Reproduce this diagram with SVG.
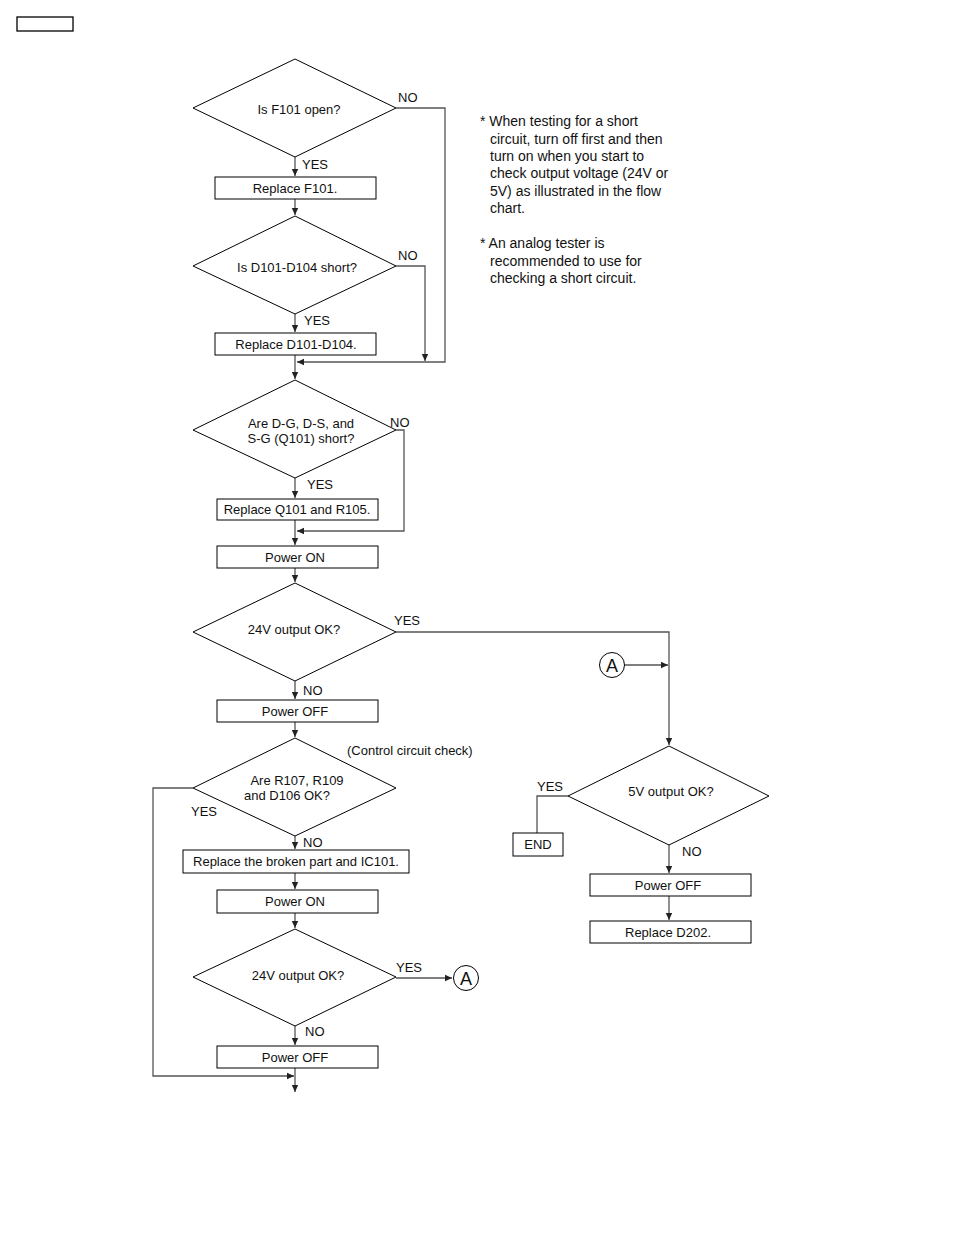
<svg xmlns="http://www.w3.org/2000/svg" width="954" height="1235" viewBox="0 0 954 1235">
<defs>
<marker id="ar" markerWidth="8" markerHeight="8" refX="7" refY="4" orient="auto" markerUnits="userSpaceOnUse">
<path d="M0,0.8 L7,4 L0,7.2 Z" fill="#222"/>
</marker>
<style>
.n{fill:#fff;stroke:#000;stroke-width:1}
.t{font-family:"Liberation Sans",Arial,sans-serif;font-size:13px;fill:#111}
.c{text-anchor:middle}
.big{font-size:18px}
.l{fill:none;stroke:#555;stroke-width:1.3}
.note{font-family:"Liberation Sans",Arial,sans-serif;font-size:14px;fill:#111}
</style>
</defs>
<rect width="954" height="1235" fill="#fff"/>
<rect x="17" y="17" width="56" height="14" fill="none" stroke="#000" stroke-width="1.3"/>

<g id="connectors">
<path class="l" d="M295,157 V176" marker-end="url(#ar)"/>
<path class="l" d="M295,199 V215" marker-end="url(#ar)"/>
<path class="l" d="M396,108 H445 V362 H297" marker-end="url(#ar)"/>
<path class="l" d="M396,266 H425 V361" marker-end="url(#ar)"/>
<path class="l" d="M295,314 V332" marker-end="url(#ar)"/>
<path class="l" d="M295,355 V379" marker-end="url(#ar)"/>
<path class="l" d="M396,430 H404 V531 H297" marker-end="url(#ar)"/>
<path class="l" d="M295,478 V498" marker-end="url(#ar)"/>
<path class="l" d="M295,520 V545" marker-end="url(#ar)"/>
<path class="l" d="M295,568 V582" marker-end="url(#ar)"/>
<path class="l" d="M396,632 H669 V745" marker-end="url(#ar)"/>
<path class="l" d="M625,665 H668" marker-end="url(#ar)"/>
<path class="l" d="M295,681 V699" marker-end="url(#ar)"/>
<path class="l" d="M295,722 V737" marker-end="url(#ar)"/>
<path class="l" d="M193,788 H153 V1076 H294" marker-end="url(#ar)"/>
<path class="l" d="M295,836 V849" marker-end="url(#ar)"/>
<path class="l" d="M295,873 V889" marker-end="url(#ar)"/>
<path class="l" d="M295,913 V928" marker-end="url(#ar)"/>
<path class="l" d="M396,978 H452" marker-end="url(#ar)"/>
<path class="l" d="M295,1026 V1045" marker-end="url(#ar)"/>
<path class="l" d="M295,1068 V1092" marker-end="url(#ar)"/>
<path class="l" d="M568,796 H537 V833"/>
<path class="l" d="M669,845 V873" marker-end="url(#ar)"/>
<path class="l" d="M669,896 V920" marker-end="url(#ar)"/>
</g>

<g id="d1"><polygon class="n" points="295,59 396,108 295,157 193,108"/><text class="t c" x="299" y="114">Is F101 open?</text></g>
<g id="b1"><rect class="n" x="215" y="177" width="161" height="22"/><text class="t c" x="295" y="193">Replace F101.</text></g>
<g id="d2"><polygon class="n" points="295,216 396,266 295,314 193,266"/><text class="t c" x="297" y="272">Is D101-D104 short?</text></g>
<g id="b2"><rect class="n" x="215" y="333" width="161" height="22"/><text class="t c" x="296" y="349">Replace D101-D104.</text></g>
<g id="d3"><polygon class="n" points="295,380 396,430 295,478 193,430"/><text class="t c" x="301" y="428">Are D-G, D-S, and</text><text class="t c" x="301" y="443">S-G (Q101) short?</text></g>
<g id="b3"><rect class="n" x="217" y="499" width="161" height="21"/><text class="t c" x="297" y="514">Replace Q101 and R105.</text></g>
<g id="b4"><rect class="n" x="217" y="546" width="161" height="22"/><text class="t c" x="295" y="562">Power ON</text></g>
<g id="d4"><polygon class="n" points="295,583 396,632 295,681 193,632"/><text class="t c" x="294" y="634">24V output OK?</text></g>
<g id="b5"><rect class="n" x="217" y="700" width="161" height="22"/><text class="t c" x="295" y="716">Power OFF</text></g>
<g id="d6"><polygon class="n" points="295,738 396,788 295,836 193,788"/><text class="t c" x="297" y="785">Are R107, R109</text><text class="t c" x="287" y="800">and D106 OK?</text></g>
<g id="b6"><rect class="n" x="183" y="850" width="226" height="23"/><text class="t c" x="296" y="866">Replace the broken part and IC101.</text></g>
<g id="b7"><rect class="n" x="217" y="890" width="161" height="23"/><text class="t c" x="295" y="906">Power ON</text></g>
<g id="d7"><polygon class="n" points="295,929 396,977 295,1026 193,977"/><text class="t c" x="298" y="980">24V output OK?</text></g>
<g id="b8"><rect class="n" x="217" y="1046" width="161" height="22"/><text class="t c" x="295" y="1062">Power OFF</text></g>
<g id="d5"><polygon class="n" points="669,746 769,796 669,845 568,796"/><text class="t c" x="671" y="796">5V output OK?</text></g>
<g id="end"><rect class="n" x="513" y="833" width="50" height="23"/><text class="t c" x="538" y="849">END</text></g>
<g id="b9"><rect class="n" x="590" y="874" width="161" height="22"/><text class="t c" x="668" y="890">Power OFF</text></g>
<g id="b10"><rect class="n" x="590" y="921" width="161" height="22"/><text class="t c" x="668" y="937">Replace D202.</text></g>
<g id="a1"><circle class="n" cx="612" cy="665" r="12.5"/><text class="t c big" x="612" y="671.5">A</text></g>
<g id="a2"><circle class="n" cx="466" cy="978" r="12.5"/><text class="t c big" x="466" y="984.5">A</text></g>

<g id="labels">
<text class="t" x="398" y="102">NO</text>
<text class="t" x="302" y="169">YES</text>
<text class="t" x="398" y="260">NO</text>
<text class="t" x="304" y="325">YES</text>
<text class="t" x="390" y="427">NO</text>
<text class="t" x="307" y="489">YES</text>
<text class="t" x="394" y="625">YES</text>
<text class="t" x="303" y="695">NO</text>
<text class="t" x="347" y="755">(Control circuit check)</text>
<text class="t" x="191" y="816">YES</text>
<text class="t" x="303" y="847">NO</text>
<text class="t" x="396" y="972">YES</text>
<text class="t" x="305" y="1036">NO</text>
<text class="t" x="537" y="791">YES</text>
<text class="t" x="682" y="856">NO</text>
</g>

<g id="notes">
<text class="note" x="480" y="126">* When testing for a short</text>
<text class="note" x="490" y="144">circuit, turn off first and then</text>
<text class="note" x="490" y="161">turn on when you start to</text>
<text class="note" x="490" y="178">check output voltage (24V or</text>
<text class="note" x="490" y="196">5V) as illustrated in the flow</text>
<text class="note" x="490" y="213">chart.</text>
<text class="note" x="480" y="248">* An analog tester is</text>
<text class="note" x="490" y="266">recommended to use for</text>
<text class="note" x="490" y="283">checking a short circuit.</text>
</g>
</svg>
